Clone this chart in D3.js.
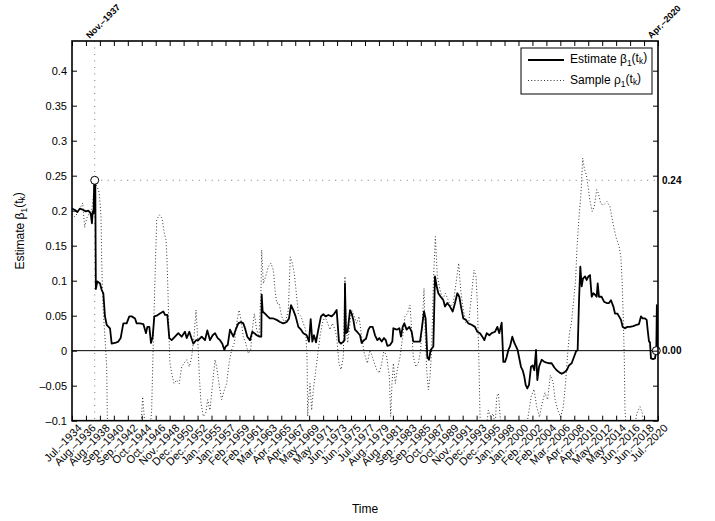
<!DOCTYPE html>
<html><head><meta charset="utf-8">
<script src="https://cdn.jsdelivr.net/npm/d3@7"></script>
<style>
body{margin:0;background:#fff;}
svg{display:block;font-family:"Liberation Sans",Arial,Helvetica,sans-serif;}
</style></head>
<body><svg id="c" width="715" height="521"></svg>
<script>
// ---------------- data ----------------
const xTickLabels = ["Jul.–1934","Aug.–1936","Aug.–1938","Sep.–1940","Sep.–1942","Oct.–1944","Oct.–1946","Nov.–1948","Dec.–1950","Dec.–1952","Jan.–1955","Jan.–1957","Feb.–1959","Feb.–1961","Mar.–1963","Apr.–1965","Apr.–1967","May–1969","May–1971","Jun.–1973","Jun.–1975","Jul.–1977","Aug.–1979","Aug.–1981","Sep.–1983","Sep.–1985","Oct.–1987","Oct.–1989","Nov.–1991","Dec.–1993","Dec.–1995","Jan.–1998","Jan.–2000","Feb.–2002","Feb.–2004","Mar.–2006","Apr.–2008","Apr.–2010","May–2012","May–2014","Jun.–2016","Jun.–2018","Jul.–2020"];
const yTickValues = [-0.1,-0.05,0,0.05,0.1,0.15,0.2,0.25,0.3,0.35,0.4];
const yTickLabels = ["–0.1","–0.05","0","0.05","0.1","0.15","0.2","0.25","0.3","0.35","0.4"];
const timeStart = 1934.5, timeEnd = 2020.5;   // Jul-1934 .. Jul-2020
const maxPoint = {time:1937.833, value:0.2434, label:"Nov.–1937", valueLabel:"0.24"};
const lastPoint = {time:2020.25, value:0.0, label:"Apr.–2020", valueLabel:"0.00"};

// Estimate beta_1(t_k)  [decimal year, value]
const betaSeries = [[1934.50,0.203],[1934.94,0.201],[1935.28,0.198],[1935.67,0.203],[1936.16,0.201],[1936.55,0.199],[1936.90,0.200],[1937.24,0.196],[1937.43,0.182],[1937.53,0.199],[1937.67,0.196],[1937.75,0.240],[1937.833,0.2434],[1937.92,0.238],[1938.00,0.088],[1938.22,0.099],[1938.61,0.096],[1938.85,0.087],[1939.10,0.082],[1939.34,0.049],[1939.59,0.037],[1940.08,0.032],[1940.32,0.010],[1940.81,0.011],[1941.30,0.013],[1941.64,0.018],[1942.03,0.039],[1942.52,0.039],[1942.91,0.049],[1943.26,0.049],[1943.75,0.046],[1943.99,0.039],[1944.48,0.039],[1944.97,0.038],[1945.36,0.025],[1945.56,0.034],[1945.85,0.034],[1946.09,0.011],[1946.34,0.020],[1946.58,0.049],[1946.93,0.050],[1947.41,0.053],[1947.90,0.056],[1948.15,0.051],[1948.49,0.051],[1948.78,0.018],[1949.13,0.015],[1949.62,0.020],[1950.10,0.025],[1950.59,0.020],[1951.08,0.027],[1951.33,0.018],[1951.72,0.027],[1951.96,0.020],[1952.31,0.010],[1952.70,0.015],[1953.04,0.015],[1953.53,0.020],[1954.02,0.015],[1954.36,0.029],[1954.75,0.015],[1955.14,0.022],[1955.49,0.025],[1955.88,0.018],[1956.22,0.015],[1956.56,0.010],[1956.86,0.001],[1957.05,0.006],[1957.35,0.008],[1957.69,0.030],[1957.93,0.025],[1958.18,0.020],[1958.52,0.030],[1958.91,0.039],[1959.30,0.041],[1959.64,0.039],[1959.89,0.032],[1960.23,0.020],[1960.62,0.015],[1960.96,0.027],[1961.26,0.025],[1961.60,0.022],[1962.02,0.020],[1962.28,0.020],[1962.34,0.080],[1962.48,0.056],[1962.82,0.053],[1963.21,0.049],[1963.56,0.046],[1964.05,0.046],[1964.54,0.044],[1965.03,0.041],[1965.51,0.039],[1966.00,0.041],[1966.35,0.046],[1966.64,0.065],[1966.98,0.058],[1967.32,0.049],[1967.72,0.034],[1968.11,0.030],[1968.45,0.025],[1968.94,0.022],[1969.28,0.013],[1969.53,0.045],[1969.77,0.013],[1970.01,0.022],[1970.31,0.012],[1970.65,0.030],[1971.04,0.049],[1971.38,0.052],[1971.73,0.049],[1972.12,0.051],[1972.61,0.049],[1973.00,0.053],[1973.34,0.058],[1973.68,0.013],[1973.98,0.010],[1974.32,0.013],[1974.50,0.015],[1974.56,0.096],[1974.71,0.025],[1974.95,0.027],[1975.30,0.058],[1975.54,0.053],[1975.79,0.044],[1976.03,0.030],[1976.42,0.026],[1976.77,0.022],[1977.01,0.011],[1977.35,0.015],[1977.65,0.017],[1977.99,0.030],[1978.23,0.034],[1978.63,0.034],[1978.97,0.022],[1979.31,0.015],[1979.60,0.018],[1979.95,0.013],[1980.29,0.018],[1980.55,0.015],[1980.78,0.007],[1981.17,0.008],[1981.51,0.013],[1981.66,0.032],[1982.15,0.030],[1982.54,0.032],[1982.78,0.020],[1983.03,0.034],[1983.27,0.039],[1983.61,0.030],[1984.01,0.034],[1984.35,0.027],[1984.59,0.013],[1985.08,0.013],[1985.57,0.013],[1985.82,0.030],[1986.16,0.056],[1986.40,0.046],[1986.65,-0.009],[1986.89,-0.013],[1987.14,0.001],[1987.53,0.006],[1987.77,0.106],[1988.02,0.092],[1988.26,0.082],[1988.60,0.077],[1989.00,0.072],[1989.24,0.063],[1989.58,0.068],[1989.97,0.063],[1990.37,0.056],[1990.71,0.068],[1991.05,0.082],[1991.34,0.077],[1991.59,0.063],[1991.93,0.046],[1992.32,0.044],[1992.66,0.039],[1993.15,0.037],[1993.64,0.034],[1993.99,0.027],[1994.38,0.025],[1994.72,0.020],[1995.01,0.015],[1995.36,0.025],[1995.75,0.022],[1996.09,0.025],[1996.58,0.027],[1996.92,0.034],[1997.21,0.025],[1997.56,0.040],[1997.80,-0.016],[1998.05,-0.016],[1998.29,-0.009],[1998.54,0.001],[1998.78,0.006],[1999.12,0.020],[1999.42,0.011],[1999.66,0.006],[1999.90,0.001],[2000.10,-0.009],[2000.39,-0.023],[2000.64,-0.028],[2000.88,-0.037],[2001.08,-0.049],[2001.32,-0.054],[2001.57,-0.049],[2001.86,-0.023],[2002.11,-0.021],[2002.35,-0.028],[2002.60,0.001],[2002.79,-0.042],[2003.04,-0.023],[2003.43,-0.013],[2003.82,-0.016],[2004.16,-0.017],[2004.55,-0.018],[2004.89,-0.018],[2005.29,-0.024],[2005.63,-0.028],[2006.02,-0.031],[2006.36,-0.033],[2006.75,-0.031],[2007.10,-0.028],[2007.44,-0.021],[2007.83,-0.018],[2008.17,-0.009],[2008.47,-0.001],[2008.71,0.001],[2008.91,0.072],[2009.10,0.120],[2009.30,0.092],[2009.49,0.103],[2009.79,0.106],[2010.03,0.101],[2010.28,0.106],[2010.52,0.108],[2010.77,0.077],[2011.01,0.082],[2011.25,0.080],[2011.50,0.077],[2011.65,0.096],[2011.84,0.077],[2012.23,0.077],[2012.58,0.070],[2012.97,0.068],[2013.31,0.068],[2013.60,0.072],[2013.95,0.063],[2014.19,0.053],[2014.53,0.053],[2014.78,0.049],[2015.07,0.044],[2015.31,0.034],[2015.66,0.032],[2016.00,0.034],[2016.39,0.034],[2016.88,0.035],[2017.37,0.037],[2017.71,0.038],[2018.00,0.049],[2018.25,0.046],[2018.59,0.046],[2018.84,0.044],[2018.98,0.030],[2019.18,0.013],[2019.32,0.012],[2019.47,-0.011],[2019.77,-0.012],[2020.06,-0.011],[2020.17,-0.004],[2020.25,0.000],[2020.33,0.065],[2020.42,0.002]];

// Sample rho_1(t_k)  [decimal year, value]  (values below -0.1 are clipped by the axes)
const rhoSeries = [[1934.50,0.195],[1934.94,0.191],[1935.43,0.199],[1936.07,0.211],[1936.36,0.176],[1936.65,0.189],[1937.04,0.196],[1937.39,0.201],[1937.87,0.239],[1938.22,0.234],[1938.51,0.225],[1938.76,0.191],[1938.85,0.134],[1939.00,0.073],[1939.20,0.039],[1939.39,0.011],[1939.59,-0.023],[1939.68,-0.094],[1939.83,-0.13],[1942.0,-0.15],[1944.5,-0.13],[1944.87,-0.066],[1945.07,-0.09],[1945.4,-0.13],[1945.9,-0.12],[1946.19,-0.085],[1946.34,-0.023],[1946.53,0.049],[1946.73,0.12],[1946.93,0.187],[1947.32,0.194],[1947.71,0.189],[1948.05,0.168],[1948.30,0.158],[1948.44,0.13],[1948.59,0.082],[1948.74,0.02],[1948.88,-0.018],[1949.13,-0.032],[1949.47,-0.047],[1949.86,-0.042],[1950.25,-0.047],[1950.59,-0.023],[1950.94,-0.018],[1951.33,-0.013],[1951.72,-0.023],[1952.06,-0.009],[1952.40,0.02],[1952.70,0.058],[1952.94,0.02],[1953.19,-0.037],[1953.43,-0.075],[1953.77,-0.094],[1954.12,-0.09],[1954.41,-0.07],[1954.75,-0.085],[1955.14,-0.047],[1955.49,-0.013],[1955.73,-0.023],[1956.07,-0.047],[1956.46,-0.07],[1956.86,-0.056],[1957.20,-0.047],[1957.54,-0.018],[1957.93,0.001],[1958.32,0.011],[1958.67,0.039],[1959.01,0.058],[1959.30,0.044],[1959.64,0.02],[1959.99,0.011],[1960.38,-0.004],[1960.72,0.001],[1960.96,0.03],[1961.26,0.053],[1961.60,0.03],[1961.94,0.02],[1962.24,0.087],[1962.34,0.144],[1962.58,0.096],[1962.92,0.106],[1963.31,0.12],[1963.70,0.125],[1964.05,0.115],[1964.29,0.087],[1964.54,0.068],[1964.88,0.068],[1965.27,0.049],[1965.76,0.039],[1966.25,0.058],[1966.54,0.134],[1966.84,0.125],[1967.13,0.11],[1967.42,0.082],[1967.72,0.053],[1968.11,0.049],[1968.45,0.039],[1968.79,0.03],[1968.99,-0.009],[1969.09,-0.094],[1969.18,-0.075],[1969.43,-0.047],[1969.67,-0.085],[1969.92,-0.056],[1970.16,-0.037],[1970.41,-0.018],[1970.65,0.001],[1970.89,0.02],[1971.24,0.039],[1971.63,0.049],[1972.02,0.039],[1972.36,0.03],[1972.71,0.039],[1973.10,0.03],[1973.34,0.02],[1973.68,-0.018],[1973.98,-0.027],[1974.32,-0.009],[1974.56,0.106],[1974.71,0.039],[1974.96,0.011],[1975.30,0.039],[1975.54,0.058],[1975.93,0.049],[1976.28,0.039],[1976.62,0.049],[1977.01,0.02],[1977.40,-0.004],[1977.84,-0.018],[1978.23,0.001],[1978.72,-0.013],[1979.21,-0.027],[1979.60,-0.032],[1979.95,-0.018],[1980.29,0.001],[1980.68,-0.009],[1981.07,-0.037],[1981.27,-0.094],[1981.46,-0.047],[1981.66,-0.018],[1981.95,-0.047],[1982.24,-0.027],[1982.64,-0.009],[1983.03,0.02],[1983.37,0.049],[1983.71,0.053],[1984.10,0.065],[1984.35,0.03],[1984.59,-0.009],[1984.98,-0.023],[1985.33,-0.018],[1985.67,0.001],[1985.96,0.049],[1986.16,0.089],[1986.35,0.02],[1986.55,-0.027],[1986.80,-0.056],[1987.04,-0.037],[1987.28,0.001],[1987.53,0.096],[1987.82,0.163],[1988.12,0.106],[1988.51,0.087],[1988.90,0.073],[1989.29,0.082],[1989.68,0.073],[1990.07,0.063],[1990.46,0.068],[1990.85,0.096],[1991.25,0.125],[1991.54,0.087],[1991.93,0.058],[1992.32,0.039],[1992.71,0.039],[1993.10,0.077],[1993.50,0.115],[1993.79,0.106],[1993.99,0.068],[1994.18,0.001],[1994.38,-0.094],[1994.6,-0.14],[1995.2,-0.12],[1995.60,-0.085],[1995.94,-0.094],[1996.33,-0.09],[1996.6,-0.11],[1996.82,-0.066],[1997.07,-0.061],[1997.31,-0.09],[1997.6,-0.13],[1998.0,-0.13],[2000.5,-0.14],[2001.2,-0.11],[2001.5,-0.09],[2001.9,-0.065],[2002.3,-0.055],[2002.7,-0.08],[2003.1,-0.095],[2003.5,-0.075],[2003.9,-0.06],[2004.3,-0.07],[2004.7,-0.035],[2005.1,-0.045],[2005.4,-0.07],[2005.8,-0.085],[2006.2,-0.095],[2006.6,-0.08],[2006.9,-0.05],[2007.2,-0.01],[2007.5,0.025],[2007.8,0.04],[2008.1,0.07],[2008.4,0.1],[2008.6,0.144],[2008.9,0.19],[2009.2,0.225],[2009.45,0.275],[2009.7,0.26],[2010.0,0.25],[2010.25,0.234],[2010.5,0.215],[2010.85,0.199],[2011.15,0.206],[2011.5,0.23],[2011.75,0.225],[2012.1,0.21],[2012.5,0.208],[2013.0,0.213],[2013.45,0.206],[2013.8,0.187],[2014.1,0.172],[2014.4,0.16],[2014.8,0.149],[2015.05,0.134],[2015.25,0.096],[2015.4,0.049],[2015.55,-0.009],[2015.65,-0.085],[2016.0,-0.13],[2017.0,-0.12],[2017.37,-0.09],[2017.86,-0.08],[2018.2,-0.09],[2018.6,-0.12],[2020.5,-0.14]];

// ---------------- layout ----------------
const L = 72, R = 658, T = 41, B = 420.67;
const svg = d3.select("#c");
svg.append("rect").attr("width",715).attr("height",521).attr("fill","#fff");

const x = d3.scaleLinear().domain([timeStart,timeEnd]).range([L,R]);
const y = d3.scaleLinear().domain([-0.1,0.4424]).range([B,T]);
const xTickValues = xTickLabels.map((d,i)=> timeStart + i*(timeEnd-timeStart)/(xTickLabels.length-1));

svg.append("clipPath").attr("id","clip").append("rect")
  .attr("x",L).attr("y",T).attr("width",R-L).attr("height",B-T);
const plot = svg.append("g").attr("clip-path","url(#clip)");

// reference lines
const refStyle = sel => sel.attr("stroke","#777").attr("stroke-width",1).attr("stroke-dasharray","1,5.5");
plot.append("line").attr("x1",x(maxPoint.time)).attr("x2",x(maxPoint.time)).attr("y1",T).attr("y2",B).call(refStyle);
plot.append("line").attr("x1",x(maxPoint.time)).attr("x2",R).attr("y1",y(maxPoint.value)).attr("y2",y(maxPoint.value)).call(refStyle);

// zero line
plot.append("line").attr("x1",L).attr("x2",R).attr("y1",y(0)).attr("y2",y(0)).attr("stroke","#000").attr("stroke-width",1);

const line = d3.line().x(d=>x(d[0])).y(d=>y(d[1]));
plot.append("path").datum(rhoSeries).attr("d",line).attr("fill","none")
  .attr("stroke","#333").attr("stroke-width",1).attr("stroke-dasharray","1,2.2");
plot.append("path").datum(betaSeries).attr("d",line).attr("fill","none")
  .attr("stroke","#000").attr("stroke-width",1.8).attr("stroke-linejoin","round");

// markers
[maxPoint,lastPoint].forEach(p=>{
  svg.append("circle").attr("cx",x(p.time)).attr("cy",y(p.value)).attr("r",4)
    .attr("fill","#fff").attr("stroke","#000").attr("stroke-width",1);
});

// axes
const axG = svg.append("g").attr("font-family",'"Liberation Sans",Arial,sans-serif');
const gB = axG.append("g").attr("transform",`translate(0,${B})`)
  .call(d3.axisBottom(x).tickValues(xTickValues).tickSizeInner(-5).tickSizeOuter(0).tickFormat((d,i)=>xTickLabels[i]));
gB.selectAll("text").attr("font-size",11).attr("fill","#000")
  .attr("text-anchor","end").attr("y",null).attr("dy","0.72em")
  .attr("transform","translate(4.5,2.5) rotate(-45)");
axG.append("g").attr("transform",`translate(0,${T})`)
  .call(d3.axisTop(x).tickValues(xTickValues).tickSizeInner(-5).tickSizeOuter(0).tickFormat(""));
const gL = axG.append("g").attr("transform",`translate(${L},0)`)
  .call(d3.axisLeft(y).tickValues(yTickValues).tickSizeInner(-5).tickSizeOuter(0).tickPadding(5).tickFormat((d,i)=>yTickLabels[i]));
gL.selectAll("text").attr("font-size",11).attr("fill","#000");
axG.append("g").attr("transform",`translate(${R},0)`)
  .call(d3.axisRight(y).tickValues(yTickValues).tickSizeInner(-5).tickSizeOuter(0).tickFormat(""));
axG.selectAll(".domain").remove();
axG.selectAll(".tick line").attr("stroke","#000").attr("stroke-width",1);
svg.append("rect").attr("x",L).attr("y",T).attr("width",R-L).attr("height",B-T)
  .attr("fill","none").attr("stroke","#000").attr("stroke-width",1.6);

// annotations
[maxPoint,lastPoint].forEach(p=>{
  svg.append("text").attr("transform",`translate(${x(p.time)-5},${T-2}) rotate(-45)`)
    .attr("font-size",9).attr("font-weight","bold").text(p.label);
  svg.append("text").attr("x",R+4).attr("y",y(p.value)).attr("dy","0.35em")
    .attr("font-size",10).attr("font-weight","bold").text(p.valueLabel);
});

// axis titles
function subText(sel, parts){
  parts.forEach(p=>{
    const t = sel.append("tspan").text(p[0]);
    if(p[1]) t.attr("font-size","0.7em").attr("dy","0.3em");
    else if(p[2]) t.attr("dy","-0.3em");
  });
}
const yl = svg.append("text").attr("transform",`translate(24,${(T+B)/2}) rotate(-90)`)
  .attr("text-anchor","middle").attr("font-size",12);
subText(yl,[["Estimate β"],["1",1],["(t",0,1],["k",1],[")",0,1]]);
svg.append("text").attr("x",(L+R)/2).attr("y",513).attr("text-anchor","middle").attr("font-size",12).text("Time");

// legend
const lg = svg.append("g");
lg.append("rect").attr("x",521).attr("y",48).attr("width",131).attr("height",46)
  .attr("fill","#fff").attr("stroke","#000").attr("stroke-width",1);
lg.append("line").attr("x1",528).attr("x2",564).attr("y1",60).attr("y2",60).attr("stroke","#000").attr("stroke-width",1.8);
lg.append("line").attr("x1",528).attr("x2",564).attr("y1",80.5).attr("y2",80.5).attr("stroke","#333").attr("stroke-width",1).attr("stroke-dasharray","1,2.2");
subText(lg.append("text").attr("x",570).attr("y",63).attr("font-size",12),[["Estimate β"],["1",1],["(t",0,1],["k",1],[")",0,1]]);
subText(lg.append("text").attr("x",570).attr("y",84).attr("font-size",12),[["Sample ρ"],["1",1],["(t",0,1],["k",1],[")",0,1]]);
</script></body></html>
